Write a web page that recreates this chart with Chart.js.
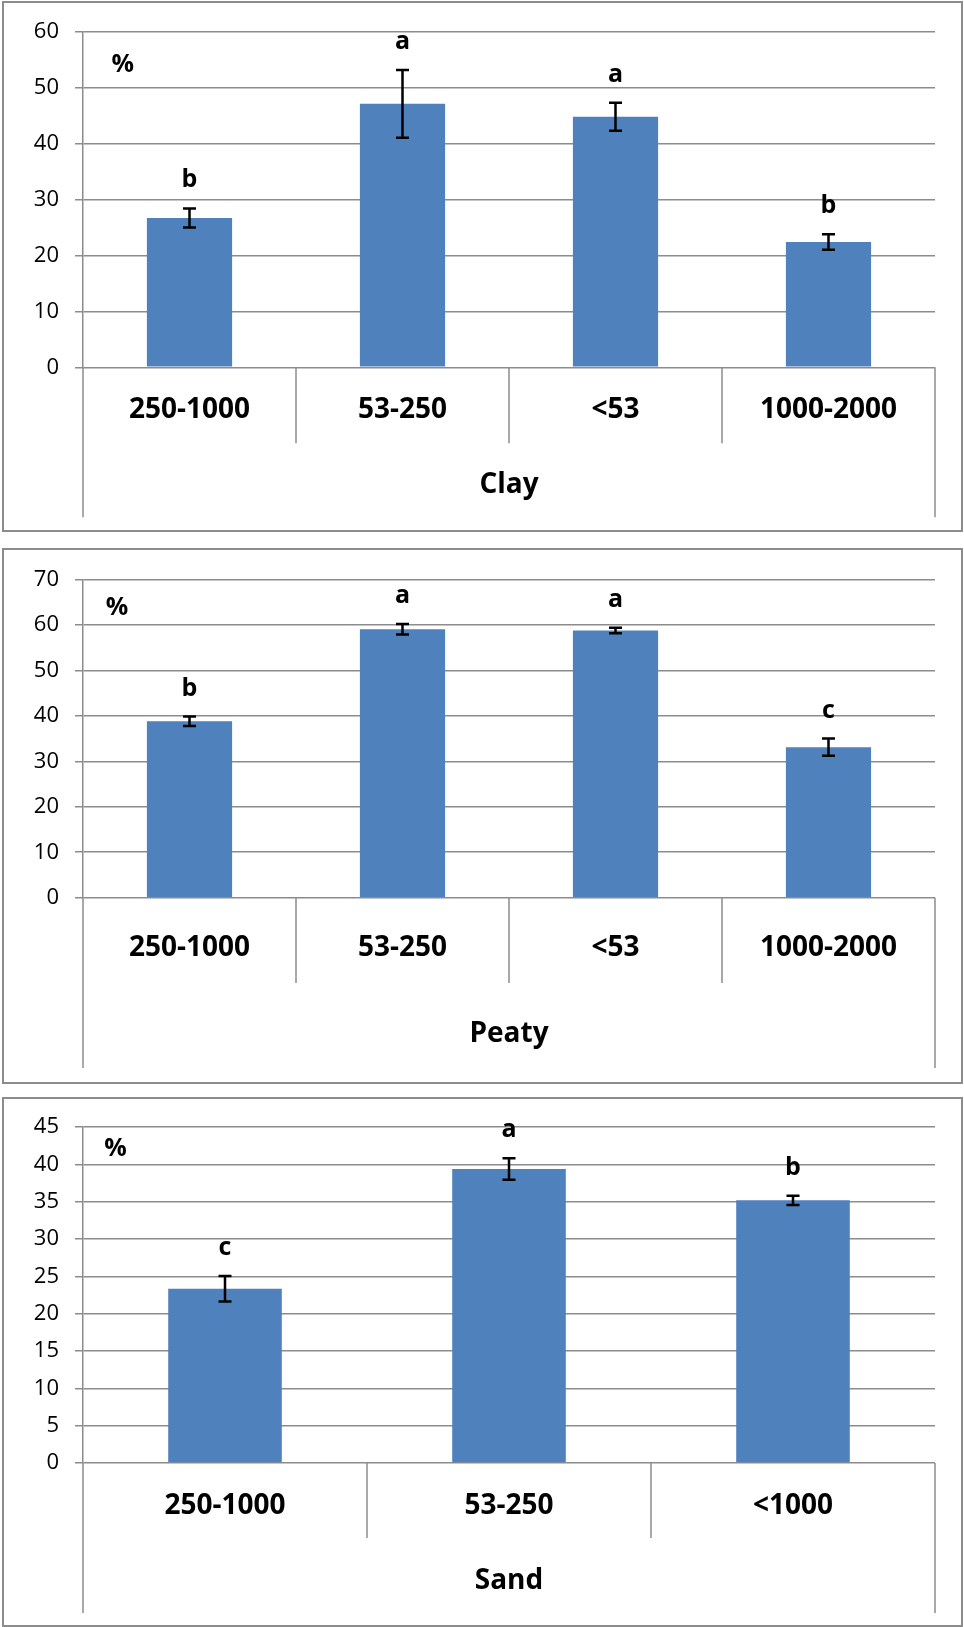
<!DOCTYPE html>
<html>
<head>
<meta charset="utf-8">
<script src="https://cdn.jsdelivr.net/npm/chart.js@4"></script>
<style>
html,body{margin:0;padding:0;background:#fff;}
body{width:964px;height:1627px;position:relative;overflow:hidden;}
.panel{position:absolute;left:2px;width:957px;border:2px solid #8c8c8c;}
canvas{position:absolute;left:0;display:block;}
</style>
</head>
<body>
<div class="panel" style="top:1px;height:527px;"></div>
<div class="panel" style="top:548px;height:532px;"></div>
<div class="panel" style="top:1097px;height:526px;"></div>
<canvas id="c1" width="964" height="533" style="top:0px;width:964px;height:533px;"></canvas>
<canvas id="c2" width="964" height="536" style="top:548px;width:964px;height:536px;"></canvas>
<canvas id="c3" width="964" height="530" style="top:1097px;width:964px;height:530px;"></canvas>
<script>
// ---------- data ----------
const clayCategories = ['250-1000', '53-250', '<53', '1000-2000'];
const clayMeans      = [26.7, 47.1, 44.8, 22.4];
const clayErrors     = [1.7, 6.05, 2.5, 1.4];
const clayLetters    = ['b', 'a', 'a', 'b'];
const clayYMax = 60, clayYStep = 10;

const peatyCategories = ['250-1000', '53-250', '<53', '1000-2000'];
const peatyMeans      = [38.8, 59.05, 58.8, 33.1];
const peatyErrors     = [1.05, 1.15, 0.6, 1.9];
const peatyLetters    = ['b', 'a', 'a', 'c'];
const peatyYMax = 70, peatyYStep = 10;

const sandCategories = ['250-1000', '53-250', '<1000'];
const sandMeans      = [23.35, 39.4, 35.2];
const sandErrors     = [1.7, 1.45, 0.63];
const sandLetters    = ['c', 'a', 'b'];
const sandYMax = 45, sandYStep = 5;

// ---------- styling ----------
const FONT = '"Open Sans", "Noto Sans", sans-serif';
const GRID = '#8c8c8c';

const decor = {
  id: 'decor',
  afterDatasetsDraw(chart, args, opts) {
    const ctx = chart.ctx, xs = chart.scales.x, ys = chart.scales.y, ca = chart.chartArea;
    const ds = chart.data.datasets[0];
    const meta = chart.getDatasetMeta(0);
    ctx.save();
    // separators of the category axis
    ctx.strokeStyle = GRID; ctx.lineWidth = 1.5;
    const n = chart.data.labels.length;
    for (let i = 0; i <= n; i++) {
      const px = xs.getPixelForValue(i - 0.5);
      const len = (i === 0 || i === n) ? opts.outerLen : opts.innerLen;
      ctx.beginPath(); ctx.moveTo(px, ca.bottom); ctx.lineTo(px, ca.bottom + len); ctx.stroke();
    }
    // error bars + letters
    ctx.strokeStyle = '#000'; ctx.lineWidth = 2.5; ctx.fillStyle = '#000';
    ctx.font = 'bold 25px ' + FONT; ctx.textAlign = 'center'; ctx.textBaseline = 'alphabetic';
    meta.data.forEach((bar, i) => {
      const v = ds.data[i], e = ds.errors[i];
      const yt = ys.getPixelForValue(v + e), yb = ys.getPixelForValue(v - e);
      ctx.beginPath();
      ctx.moveTo(bar.x, yt); ctx.lineTo(bar.x, yb);
      ctx.moveTo(bar.x - 6.5, yt); ctx.lineTo(bar.x + 6.5, yt);
      ctx.moveTo(bar.x - 6.5, yb); ctx.lineTo(bar.x + 6.5, yb);
      ctx.stroke();
      ctx.fillText(ds.letters[i], bar.x, yt - opts.letterGap);
    });
    // % unit
    ctx.textAlign = 'left';
    ctx.fillText('%', ca.left + opts.pctX, ca.top + opts.pctY);
    ctx.restore();
  }
};

function makeChart(id, cats, means, errs, letters, yMax, yStep, st) {
  return new Chart(document.getElementById(id), {
    type: 'bar',
    data: {
      labels: cats,
      datasets: [{
        data: means, errors: errs, letters: letters,
        backgroundColor: '#4F81BD', borderWidth: 0,
        barPercentage: 0.4, categoryPercentage: 1.0
      }]
    },
    options: {
      responsive: false, animation: false, devicePixelRatio: 1,
      layout: { padding: { left: 13, right: 29, top: st.top, bottom: st.pb } },
      plugins: { legend: { display: false }, tooltip: { enabled: false }, decor: st.decor },
      scales: {
        x: {
          grid: { display: false, drawTicks: false },
          border: { display: false },
          ticks: { font: { family: FONT, weight: 'bold', size: 28 }, color: '#000', padding: st.labelPad, maxRotation: 0, autoSkip: false },
          title: { display: true, text: st.title, font: { family: FONT, weight: 'bold', size: 28 }, color: '#000', padding: { top: 0, bottom: st.titlePad } },
          afterFit(s) { s.height = st.axisH; }
        },
        y: {
          min: 0, max: yMax,
          ticks: { stepSize: yStep, font: { family: FONT, size: 22 }, color: '#000', padding: 16 },
          grid: { color: GRID, lineWidth: 1.5, tickLength: 8, tickColor: GRID, tickWidth: 1.5 },
          border: { display: true, color: GRID, width: 1.5 },
          afterFit(s) { s.width = 70; }
        }
      }
    },
    plugins: [decor]
  });
}

function draw() {
  makeChart('c1', clayCategories, clayMeans, clayErrors, clayLetters, clayYMax, clayYStep, {
    title: 'Clay', top: 31.7, pb: 15.7, axisH: 150, labelPad: 26, titlePad: 15.5,
    decor: { innerLen: 76, outerLen: 150, letterGap: 21, pctX: 28.5, pctY: 40 }
  });
  makeChart('c2', peatyCategories, peatyMeans, peatyErrors, peatyLetters, peatyYMax, peatyYStep, {
    title: 'Peaty', top: 31.5, pb: 16, axisH: 170.3, labelPad: 33.5, titlePad: 17,
    decor: { innerLen: 85.3, outerLen: 170.3, letterGap: 21, pctX: 22.8, pctY: 35.5 }
  });
  makeChart('c3', sandCategories, sandMeans, sandErrors, sandLetters, sandYMax, sandYStep, {
    title: 'Sand', top: 30.2, pb: 14, axisH: 150, labelPad: 26.7, titlePad: 15.2,
    decor: { innerLen: 75, outerLen: 150, letterGap: 21, pctX: 21.3, pctY: 29 }
  });
}

if (document.fonts && document.fonts.load) {
  Promise.all([
    document.fonts.load('22px "Open Sans"'),
    document.fonts.load('bold 28px "Open Sans"')
  ]).then(draw, draw);
} else { draw(); }
</script>
</body>
</html>
